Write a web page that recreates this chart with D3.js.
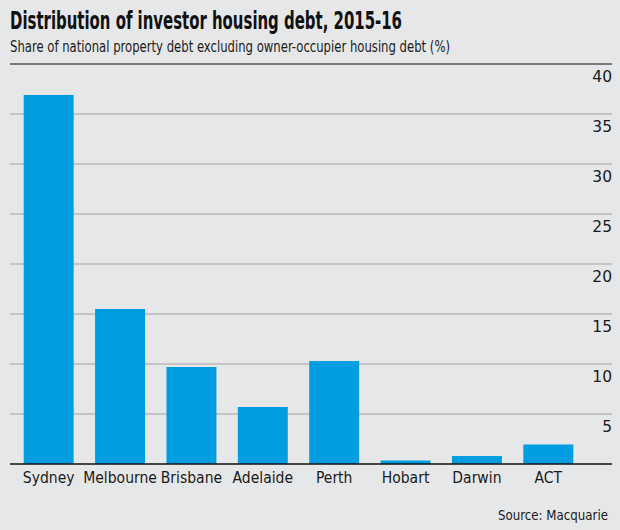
<!DOCTYPE html>
<html>
<head>
<meta charset="utf-8">
<script src="https://cdn.jsdelivr.net/npm/d3@7"></script>
<style>
  html, body { margin: 0; padding: 0; background: #e6e7e8; }
  svg { display: block; }
</style>
</head>
<body>
<svg id="chart" width="620" height="530"></svg>
<script>
const categories = ["Sydney", "Melbourne", "Brisbane", "Adelaide", "Perth", "Hobart", "Darwin", "ACT"];
const values = [36.9, 15.5, 9.7, 5.7, 10.3, 0.35, 0.8, 1.95];
const yTicks = [5, 10, 15, 20, 25, 30, 35, 40];
const titleText = "Distribution of investor housing debt, 2015-16";
const subtitleText = "Share of national property debt excluding owner-occupier housing debt (%)";
const sourceText = "Source: Macquarie";

const W = 620, H = 530;
const svg = d3.select("#chart");
svg.append("rect").attr("width", W).attr("height", H).attr("fill", "#e6e7e8");

const condensed = "'Liberation Sans Narrow', 'DejaVu Sans Condensed', 'DejaVu Sans', sans-serif";

const x = d3.scaleBand().domain(categories).range([13, 584]).paddingInner(0.3).paddingOuter(0.15);
const y = d3.scaleLinear().domain([0, 40]).range([464, 64]);

// gridlines
svg.append("g").selectAll("line").data(yTicks).join("line")
  .attr("x1", 10).attr("x2", 612)
  .attr("y1", d => y(d)).attr("y2", d => y(d))
  .attr("stroke", d => d === 40 ? "#7a7a7a" : "#b8babc")
  .attr("stroke-width", d => d === 40 ? 2 : 1.5);

// tick labels (below lines, right aligned)
svg.append("g").selectAll("text").data(yTicks).join("text")
  .attr("x", 612).attr("y", d => y(d) + 17.5)
  .attr("text-anchor", "end")
  .attr("font-family", "'DejaVu Sans', sans-serif")
  .attr("font-size", 15.5)
  .attr("fill", "#1a1a1a")
  .text(d => d);

// bars
svg.append("g").selectAll("rect").data(categories).join("rect")
  .attr("x", d => x(d))
  .attr("width", x.bandwidth())
  .attr("y", (d, i) => y(values[i]))
  .attr("height", (d, i) => y(0) - y(values[i]))
  .attr("fill", "#009ee0");

// baseline
svg.append("line").attr("x1", 10).attr("x2", 612).attr("y1", y(0)).attr("y2", y(0))
  .attr("stroke", "#111").attr("stroke-width", 1.5);

// category labels
svg.append("g").selectAll("text").data(categories).join("text")
  .attr("x", d => x(d) + x.bandwidth() / 2)
  .attr("y", 483)
  .attr("text-anchor", "middle")
  .attr("font-family", condensed)
  .attr("font-size", 15.5)
  .attr("fill", "#1a1a1a")
  .text(d => d);

// title & subtitle
svg.append("text").attr("x", 10).attr("y", 29)
  .attr("font-family", condensed).attr("font-weight", "bold").attr("font-size", 24)
  .attr("fill", "#111")
  .attr("textLength", 392).attr("lengthAdjust", "spacingAndGlyphs")
  .text(titleText);
svg.append("text").attr("x", 10).attr("y", 52)
  .attr("font-family", condensed).attr("font-size", 16)
  .attr("fill", "#1a1a1a")
  .attr("textLength", 440).attr("lengthAdjust", "spacingAndGlyphs")
  .text(subtitleText);

// source
svg.append("text").attr("x", 608).attr("y", 520)
  .attr("text-anchor", "end")
  .attr("font-family", condensed).attr("font-size", 14.5)
  .attr("fill", "#1a1a1a")
  .attr("textLength", 110).attr("lengthAdjust", "spacingAndGlyphs")
  .text(sourceText);
</script>
</body>
</html>
